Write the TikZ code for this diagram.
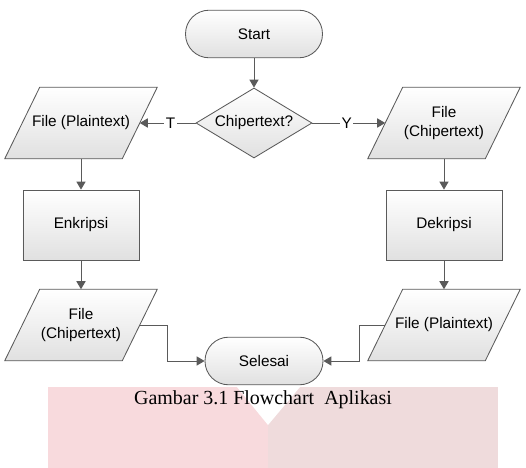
\documentclass[tikz,border=0pt]{standalone}
\usepackage{fontspec}
\setmainfont{Liberation Serif}
\setsansfont{Liberation Sans}
\usepackage{tikz}
\usetikzlibrary{calc,shapes.geometric,arrows.meta,backgrounds}

\definecolor{LineGray}{HTML}{5A5A5A}
\definecolor{MarkLeft}{HTML}{F8DADD}
\definecolor{MarkRight}{HTML}{EFDBDC}

\begin{document}
\begin{tikzpicture}
            \useasboundingbox (0,0) rectangle (13.15,-11.7);

            \tikzset{FillStyle/.style={draw=LineGray,line width=0.6pt,top color=white,bottom color=black!12}};
            \tikzset{TextStyle/.style={font=\sffamily\fontsize{10.9}{13}\selectfont,align=center,inner sep=2pt}};
            \tikzset{BoxStyle/.style={FillStyle,TextStyle}};
            \tikzset{TermStyle/.style={BoxStyle,rectangle,rounded corners=0.59cm,minimum height=1.19cm}};
            \tikzset{IOStyle/.style={TextStyle,rectangle,minimum width=2.925cm,minimum height=1.775cm}};
            \tikzset{ProcStyle/.style={BoxStyle,rectangle,minimum width=2.9cm,minimum height=1.75cm}};
            \tikzset{DecStyle/.style={BoxStyle,diamond,aspect=1.66,minimum width=2.9cm,minimum height=1.75cm,inner sep=0pt}};
            \tikzset{EdgeStyle/.style={draw=LineGray,line width=0.7pt,-{Triangle[length=2mm,width=2.3mm]}}};
            \tikzset{LabelStyle/.style={TextStyle,fill=white,inner sep=1pt}};

            \node[TermStyle,minimum width=3.425cm] (start) at (6.35,-0.85) {Start};
            \node[DecStyle] (cek) at (6.35,-3.075) {Chipertext?};
            \node[IOStyle] (plainA) at (2.025,-3.075) {File (Plaintext)};
            \node[IOStyle] (chipA) at (11.1,-3.075) {File\\(Chipertext)};
            \node[ProcStyle] (enk) at (2.025,-5.625) {Enkripsi};
            \node[ProcStyle] (dek) at (11.1,-5.625) {Dekripsi};
            \node[IOStyle] (chipB) at (2.025,-8.125) {File\\(Chipertext)};
            \node[IOStyle] (plainB) at (11.1,-8.125) {File (Plaintext)};
            \node[TermStyle,minimum width=2.95cm] (selesai) at (6.6,-9.025) {Selesai};

            \node[font=\fontsize{14.2}{16}\selectfont] (judul) at (6.575,-10) {Gambar 3.1 Flowchart~ Aplikasi};

            \begin{scope}[on background layer]
              \fill[MarkLeft] (1.2,-9.675) rectangle (6.7,-11.7);
              \fill[MarkRight] (6.7,-9.675) rectangle (12.45,-11.7);
              \fill[white] (5.925,-9.675) -- (7.5,-9.675) -- (6.7,-10.625) -- cycle;
              \foreach \n in {plainA,chipA,chipB,plainB}
                \draw[FillStyle] ($(\n.north west)+(0.4375,0)$) -- ($(\n.north east)+(0.4375,0)$)
                  -- ($(\n.south east)-(0.4375,0)$) -- ($(\n.south west)-(0.4375,0)$) -- cycle;
            \end{scope}

            \draw[EdgeStyle] (start) -- (cek);
            \draw[EdgeStyle] (cek) -- node[LabelStyle,pos=0.45]{T} (plainA);
            \draw[EdgeStyle] (cek) -- node[LabelStyle,pos=0.47]{Y} (chipA);
            \draw[EdgeStyle] (plainA) -- (enk);
            \draw[EdgeStyle] (enk) -- (chipB);
            \draw[EdgeStyle] (chipA) -- (dek);
            \draw[EdgeStyle] (dek) -- (plainB);
            \draw[EdgeStyle] (chipB.east) -- (4.175,-8.125) |- (selesai.west);
            \draw[EdgeStyle] (plainB.west) -- (8.975,-8.125) |- (selesai.east);
          \end{tikzpicture}
\end{document}
